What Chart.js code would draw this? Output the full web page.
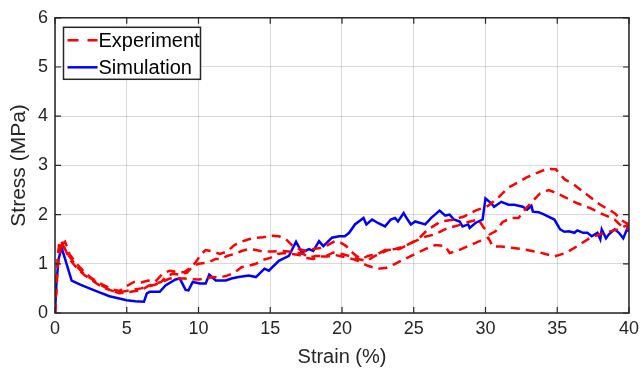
<!DOCTYPE html>
<html>
<head>
<meta charset="utf-8">
<script src="https://cdn.jsdelivr.net/npm/chart.js@4.4.0/dist/chart.umd.min.js"></script>
<style>
  html, body { margin: 0; padding: 0; background: #fff; }
  #wrap { width: 644px; height: 382px; }
</style>
</head>
<body>
<div id="wrap"><canvas id="stressChart" width="644" height="382"></canvas></div>
<script>
// axis ticks
const strainTicks = [0, 5, 10, 15, 20, 25, 30, 35, 40];
const stressTicks = [0, 1, 2, 3, 4, 5, 6];

// experiment, specimen 1
const exp1Strain = [0, 0.15, 0.3, 0.5, 0.7, 1, 1.5, 2, 2.5, 3, 3.5, 4, 4.5, 5, 5.5, 6, 6.5, 7, 7.5, 8, 8.5, 9, 9.5, 9.8, 10.2, 10.5, 11, 11.5, 12, 12.5, 13, 13.5, 14, 14.5, 15, 15.6, 16.1, 16.5, 17, 17.5, 18, 18.5, 19, 19.5, 19.9, 20.3, 20.6, 21, 21.4, 21.8, 22.5, 23, 23.7, 24.4, 25.3, 26, 26.9, 27.8, 28.5, 29.3, 30.2, 30.9, 31.6, 32.3, 32.9, 33.6, 34.3, 34.9, 35.5, 36.2, 37.1, 38, 39, 39.5, 40];
const exp1Stress = [0, 0.9, 1.45, 1.4, 1.45, 1.2, 1.0, 0.85, 0.72, 0.62, 0.55, 0.48, 0.45, 0.55, 0.63, 0.62, 0.66, 0.64, 0.8, 0.86, 0.83, 0.83, 0.93, 1.03, 1.2, 1.28, 1.25, 1.2, 1.25, 1.38, 1.45, 1.5, 1.53, 1.54, 1.57, 1.56, 1.5, 1.38, 1.3, 1.26, 1.3, 1.32, 1.38, 1.46, 1.43, 1.36, 1.26, 1.16, 1.1, 1.16, 1.2, 1.28, 1.3, 1.36, 1.5, 1.7, 1.86, 1.9, 1.96, 2.08, 2.18, 2.35, 2.55, 2.66, 2.76, 2.85, 2.93, 2.92, 2.72, 2.6, 2.4, 2.2, 2.03, 1.88, 1.8];

// experiment, specimen 2
const exp2Strain = [0, 0.2, 0.4, 0.6, 1, 1.5, 2, 2.5, 3, 3.5, 4, 4.5, 5, 5.5, 6, 6.5, 7, 7.4, 7.7, 8.2, 8.7, 9.2, 9.6, 10, 10.7, 11.2, 11.6, 12, 12.5, 13, 13.5, 14, 14.5, 15.1, 15.8, 16.3, 16.8, 17.3, 17.7, 18.2, 18.9, 19.4, 20, 20.5, 21.1, 21.7, 22.3, 23.2, 24, 25.1, 25.8, 26.5, 27.3, 28.1, 28.8, 29.5, 29.9, 30.3, 30.7, 31.2, 31.8, 32.3, 32.8, 33.3, 33.8, 34.4, 35, 35.7, 36.4, 37.3, 38, 39, 39.5, 40];
const exp2Stress = [0, 1.2, 1.48, 1.35, 1.15, 0.95, 0.8, 0.7, 0.6, 0.52, 0.45, 0.4, 0.42, 0.44, 0.46, 0.55, 0.6, 0.63, 0.73, 0.8, 0.78, 0.82, 0.95, 1.0, 1.03, 1.1, 1.1, 1.16, 1.2, 1.26, 1.3, 1.28, 1.25, 1.25, 1.26, 1.25, 1.23, 1.2, 1.13, 1.16, 1.16, 1.23, 1.2, 1.16, 1.1, 1.06, 1.16, 1.28, 1.3, 1.46, 1.55, 1.6, 1.72, 1.78, 1.85, 1.9, 1.73, 1.6, 1.66, 1.85, 1.93, 1.93, 2.12, 2.28, 2.43, 2.5, 2.43, 2.33, 2.23, 2.13, 2.03, 1.9, 1.76, 1.7];

// experiment, specimen 3
const exp3Strain = [0, 0.2, 0.45, 0.7, 1, 1.5, 2, 2.5, 3, 3.5, 4, 4.5, 5, 6, 7, 8, 9, 10, 10.5, 11, 11.5, 12, 12.5, 13, 13.5, 14, 14.5, 15, 15.5, 16, 16.5, 17, 17.5, 18, 18.5, 19, 19.5, 20, 20.7, 21.1, 21.8, 22.5, 23.1, 23.7, 24.4, 25.1, 25.8, 26.5, 27.2, 27.5, 28, 28.7, 29.5, 30.2, 30.5, 31.1, 31.6, 32.5, 33.8, 34.8, 35.6, 36.4, 37.3, 38.3, 39.2, 40];
const exp3Stress = [0, 1.0, 1.42, 1.3, 1.1, 0.92, 0.78, 0.68, 0.58, 0.5, 0.45, 0.42, 0.45, 0.5, 0.58, 0.7, 0.7, 0.68, 0.7, 0.73, 0.72, 0.76, 0.82, 0.93, 0.96, 1.0, 1.08, 1.12, 1.2, 1.22, 1.2, 1.18, 1.12, 1.1, 1.15, 1.15, 1.18, 1.15, 1.1, 1.06, 0.96, 0.9, 0.92, 1.0, 1.1, 1.2, 1.3, 1.38, 1.36, 1.22, 1.26, 1.35, 1.45, 1.53, 1.35, 1.35, 1.33, 1.3, 1.23, 1.15, 1.22, 1.36, 1.53, 1.63, 1.7, 1.8];

// simulation
const simStrain = [0, 0.1, 0.25, 0.46, 0.7, 1.16, 1.8, 2.4, 3.1, 3.8, 4.4, 5.0, 5.6, 6.2, 6.4, 6.6, 7.3, 7.7, 8.4, 8.7, 9.1, 9.3, 9.6, 10.1, 10.5, 10.75, 11.2, 11.9, 12.3, 12.8, 13.5, 14.0, 14.6, 14.9, 15.6, 16.3, 16.8, 17.2, 17.7, 18.0, 18.4, 18.7, 19.3, 19.8, 20.2, 20.5, 20.9, 21.5, 21.7, 22.1, 22.5, 23.0, 23.4, 23.7, 23.9, 24.3, 24.5, 24.8, 25.1, 25.8, 26.2, 26.8, 27.2, 27.5, 27.8, 28.2, 28.4, 28.8, 28.9, 29.3, 29.8, 30.0, 30.4, 30.6, 31.1, 31.6, 32.0, 32.6, 32.9, 33.2, 33.3, 33.7, 34.1, 34.8, 35.2, 35.5, 35.8, 36.2, 36.4, 36.8, 37.1, 37.4, 37.8, 38.0, 38.1, 38.4, 38.6, 39.0, 39.3, 39.6, 39.9, 40];
const simStress = [0, 0.6, 1.1, 1.33, 1.1, 0.66, 0.57, 0.5, 0.42, 0.34, 0.3, 0.26, 0.24, 0.23, 0.4, 0.43, 0.43, 0.56, 0.68, 0.7, 0.47, 0.46, 0.63, 0.6, 0.6, 0.78, 0.66, 0.66, 0.7, 0.73, 0.76, 0.73, 0.9, 0.86, 1.06, 1.16, 1.45, 1.23, 1.3, 1.26, 1.46, 1.36, 1.53, 1.56, 1.56, 1.63, 1.8, 1.93, 1.8, 1.9, 1.83, 1.76, 1.9, 1.93, 1.86, 2.03, 1.93, 1.8, 1.86, 1.8, 1.93, 2.08, 1.98, 2.0, 1.9, 1.86, 1.76, 1.8, 1.73, 1.83, 1.9, 2.33, 2.23, 2.16, 2.26, 2.2, 2.2, 2.16, 2.1, 2.18, 2.06, 2.05, 2.0, 1.9, 1.7, 1.65, 1.66, 1.63, 1.68, 1.63, 1.63, 1.56, 1.63, 1.5, 1.7, 1.52, 1.6, 1.7, 1.63, 1.52, 1.73, 1.65];

const toPoints = (xs, ys) => xs.map((x, i) => ({ x: x, y: ys[i] }));

const red = "#ff0000";
const blue = "#0000ff";
const FONT = "'Liberation Sans', Arial, Helvetica, sans-serif";

function expSet(xs, ys) {
  return {
    label: "Experiment",
    data: toPoints(xs, ys),
    borderColor: red,
    borderWidth: 2.5,
    borderDash: [9, 6],
    pointRadius: 0,
    tension: 0,
    fill: false,
  };
}

// ! box around the plot with inward ticks, plus the legend in the top-left
const framePlugin = {
  id: "frame",
  afterDatasetsDraw(chart) {
    const { ctx, chartArea: a, scales } = chart;
    ctx.save();
    ctx.strokeStyle = "#262626";
    ctx.lineWidth = 1.5;
    ctx.setLineDash([]);
    ctx.strokeRect(a.left, a.top, a.right - a.left, a.bottom - a.top);

    const tl = 6;
    ctx.lineWidth = 1.2;
    ctx.beginPath();
    strainTicks.forEach((v) => {
      const px = scales.x.getPixelForValue(v);
      ctx.moveTo(px, a.bottom);
      ctx.lineTo(px, a.bottom - tl);
      ctx.moveTo(px, a.top);
      ctx.lineTo(px, a.top + tl);
    });
    stressTicks.forEach((v) => {
      const py = scales.y.getPixelForValue(v);
      ctx.moveTo(a.left, py);
      ctx.lineTo(a.left + tl, py);
      ctx.moveTo(a.right, py);
      ctx.lineTo(a.right - tl, py);
    });
    ctx.stroke();

    // legend
    const lx = a.left + 8.5, ly = a.top + 9.5, lw = 137, lh = 52;
    ctx.fillStyle = "#fff";
    ctx.fillRect(lx, ly, lw, lh);
    ctx.strokeStyle = "#262626";
    ctx.lineWidth = 1.5;
    ctx.strokeRect(lx, ly, lw, lh);

    const rows = [
      { text: "Experiment", color: red, dash: [11, 9] },
      { text: "Simulation", color: blue, dash: [] },
    ];
    ctx.font = "20px " + FONT;
    ctx.textBaseline = "middle";
    rows.forEach((r, i) => {
      const y = ly + 13 + i * 27;
      ctx.strokeStyle = r.color;
      ctx.lineWidth = 2.5;
      ctx.setLineDash(r.dash);
      ctx.beginPath();
      ctx.moveTo(lx + 4, y);
      ctx.lineTo(lx + 34, y);
      ctx.stroke();
      ctx.setLineDash([]);
      ctx.fillStyle = "#000";
      ctx.fillText(r.text, lx + 35, y + 1);
    });
    ctx.restore();
  },
};

const config = {
  type: "line",
  data: {
    datasets: [
      expSet(exp1Strain, exp1Stress),
      expSet(exp2Strain, exp2Stress),
      expSet(exp3Strain, exp3Stress),
      {
        label: "Simulation",
        data: toPoints(simStrain, simStress),
        borderColor: blue,
        borderWidth: 2.5,
        pointRadius: 0,
        tension: 0,
        fill: false,
      },
    ],
  },
  options: {
    responsive: false,
    animation: false,
    events: [],
    layout: { padding: { top: 13, right: 12, left: 0, bottom: 0 } },
    plugins: {
      legend: { display: false },
      tooltip: { enabled: false },
    },
    scales: {
      x: {
        type: "linear",
        min: 0,
        max: 40,
        afterBuildTicks: (s) => { s.ticks = strainTicks.map((v) => ({ value: v })); },
        afterFit: (s) => { s.height = 69; },
        grid: { color: "rgba(0,0,0,0.15)", lineWidth: 1, drawTicks: false },
        border: { display: false },
        ticks: { color: "#262626", padding: 5, font: { family: FONT, size: 18 }, maxRotation: 0 },
        title: {
          display: true,
          text: "Strain (%)",
          color: "#262626",
          font: { family: FONT, size: 20 },
          padding: { top: 0, bottom: 13 },
        },
      },
      y: {
        type: "linear",
        min: 0,
        max: 6,
        afterBuildTicks: (s) => { s.ticks = stressTicks.map((v) => ({ value: v })); },
        afterFit: (s) => { s.width = 55; },
        grid: { color: "rgba(0,0,0,0.15)", lineWidth: 1, drawTicks: false },
        border: { display: false },
        ticks: { color: "#262626", padding: 7, font: { family: FONT, size: 18 } },
        title: {
          display: true,
          text: "Stress (MPa)",
          color: "#262626",
          font: { family: FONT, size: 21 },
          padding: { top: 7, bottom: 0 },
        },
      },
    },
  },
  plugins: [framePlugin],
};

const stressChart = new Chart(document.getElementById("stressChart"), config);
</script>
</body>
</html>
